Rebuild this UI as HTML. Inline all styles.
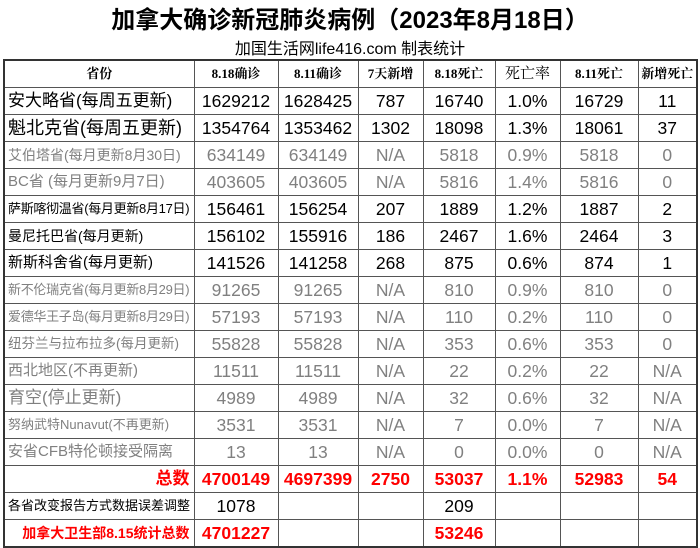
<!DOCTYPE html>
<html><head><meta charset="utf-8"><style>
body{margin:0;width:700px;height:548px;background:#fff;position:relative;overflow:hidden;font-family:"Liberation Sans","Noto Sans CJK SC",sans-serif}
.t{position:absolute;left:0;width:700px;text-align:center;top:0px;font-size:24px;font-weight:bold;color:#000}
.s{position:absolute;left:0;width:700px;text-align:center;top:35px;font-size:16px;color:#000}
table{position:absolute;left:3px;top:59px;width:695px;border-collapse:collapse;table-layout:fixed;border:2px solid #333}
td{border:1px solid #555;height:26px;padding:0;text-align:center;font-size:17.5px;white-space:nowrap;overflow:hidden;line-height:26px}
tr.h td{font-family:"Liberation Serif","Noto Serif CJK SC",serif;font-weight:bold;font-size:13px}
td.n{text-align:left;padding-left:3px;font-size:16px}
tr.g td{color:#808080}
.r{color:#f00;font-weight:bold}
</style></head><body>
<div class="t">加拿大确诊新冠肺炎病例（2023年8月18日）</div>
<div class="s">加国生活网life416.com 制表统计</div>
<table>
<colgroup><col style="width:190px"><col style="width:84px"><col style="width:80px"><col style="width:65px"><col style="width:72px"><col style="width:65px"><col style="width:78px"><col style="width:59px"></colgroup>
<tr class="h"><td>省份</td><td>8.18确诊</td><td>8.11确诊</td><td>7天新增</td><td>8.18死亡</td><td style="font-size:15px;font-weight:normal">死亡率</td><td>8.11死亡</td><td>新增死亡</td></tr>
<tr><td class="n" style="font-size:17px">安大略省(每周五更新)</td><td>1629212</td><td>1628425</td><td>787</td><td>16740</td><td>1.0%</td><td>16729</td><td>11</td></tr>
<tr><td class="n" style="font-size:18px">魁北克省(每周五更新)</td><td>1354764</td><td>1353462</td><td>1302</td><td>18098</td><td>1.3%</td><td>18061</td><td>37</td></tr>
<tr class="g"><td class="n" style="font-size:14px">艾伯塔省(每月更新8月30日)</td><td>634149</td><td>634149</td><td>N/A</td><td>5818</td><td>0.9%</td><td>5818</td><td>0</td></tr>
<tr class="g"><td class="n" style="font-size:15px">BC省 (每月更新9月7日)</td><td>403605</td><td>403605</td><td>N/A</td><td>5816</td><td>1.4%</td><td>5816</td><td>0</td></tr>
<tr><td class="n" style="font-size:13px;letter-spacing:-0.3px">萨斯喀彻温省(每月更新8月17日)</td><td>156461</td><td>156254</td><td>207</td><td>1889</td><td>1.2%</td><td>1887</td><td>2</td></tr>
<tr><td class="n" style="font-size:14px">曼尼托巴省(每月更新)</td><td>156102</td><td>155916</td><td>186</td><td>2467</td><td>1.6%</td><td>2464</td><td>3</td></tr>
<tr><td class="n" style="font-size:15px">新斯科舍省(每月更新)</td><td>141526</td><td>141258</td><td>268</td><td>875</td><td>0.6%</td><td>874</td><td>1</td></tr>
<tr class="g"><td class="n" style="font-size:13px;letter-spacing:-0.3px">新不伦瑞克省(每月更新8月29日)</td><td>91265</td><td>91265</td><td>N/A</td><td>810</td><td>0.9%</td><td>810</td><td>0</td></tr>
<tr class="g"><td class="n" style="font-size:13px;letter-spacing:-0.3px">爱德华王子岛(每月更新8月29日)</td><td>57193</td><td>57193</td><td>N/A</td><td>110</td><td>0.2%</td><td>110</td><td>0</td></tr>
<tr class="g"><td class="n" style="font-size:13.5px">纽芬兰与拉布拉多(每月更新)</td><td>55828</td><td>55828</td><td>N/A</td><td>353</td><td>0.6%</td><td>353</td><td>0</td></tr>
<tr class="g"><td class="n" style="font-size:15px">西北地区(不再更新)</td><td>11511</td><td>11511</td><td>N/A</td><td>22</td><td>0.2%</td><td>22</td><td>N/A</td></tr>
<tr class="g"><td class="n" style="font-size:17px">育空(停止更新)</td><td>4989</td><td>4989</td><td>N/A</td><td>32</td><td>0.6%</td><td>32</td><td>N/A</td></tr>
<tr class="g"><td class="n" style="font-size:13px">努纳武特Nunavut(不再更新)</td><td>3531</td><td>3531</td><td>N/A</td><td>7</td><td>0.0%</td><td>7</td><td>N/A</td></tr>
<tr class="g"><td class="n" style="font-size:15px">安省CFB特伦顿接受隔离</td><td>13</td><td>13</td><td>N/A</td><td>0</td><td>0.0%</td><td>0</td><td>N/A</td></tr>
<tr class="r"><td style="text-align:right;padding-right:4px;font-size:17px">总数</td><td>4700149</td><td>4697399</td><td>2750</td><td>53037</td><td>1.1%</td><td>52983</td><td>54</td></tr>
<tr><td class="n" style="font-size:13px">各省改变报告方式数据误差调整</td><td>1078</td><td></td><td></td><td>209</td><td></td><td></td><td></td></tr>
<tr class="r"><td style="text-align:right;padding-right:4px;font-size:14px">加拿大卫生部8.15统计总数</td><td>4701227</td><td></td><td></td><td>53246</td><td></td><td></td><td></td></tr>
</table>
</body></html>
